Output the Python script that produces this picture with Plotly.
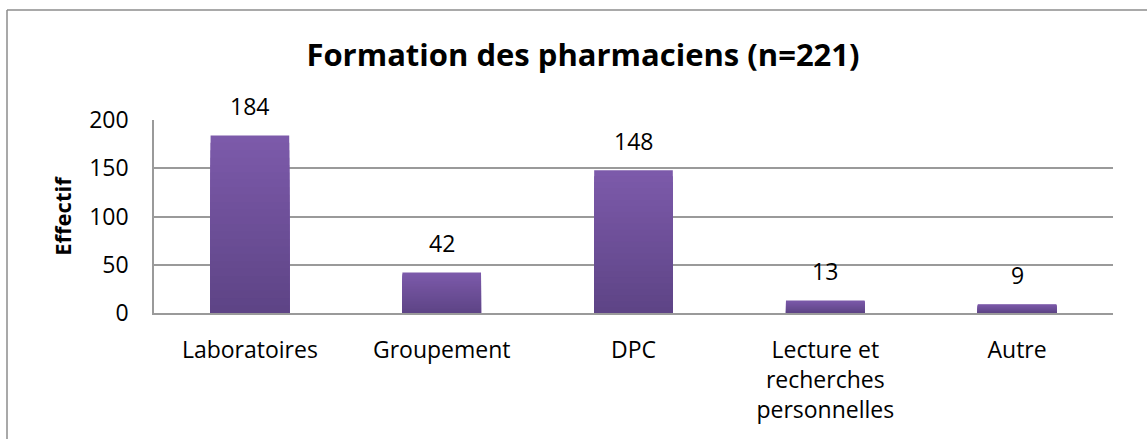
import plotly.graph_objects as go

categories = ["Laboratoires", "Groupement", "DPC", "Lecture et<br>recherches<br>personnelles", "Autre"]
values = [184, 42, 148, 13, 9]
y_ticks = [0, 50, 100, 150, 200]
title_text = "Formation des pharmaciens (n=221)"
y_title = "Effectif"

FONT = "Open Sans"
W, H = 1147, 439
L, R, T, B = 154, 34, 120, 126

# gradient approximation: light top -> dark bottom
top_c = (124, 90, 170)
bot_c = (94, 68, 134)
N = 24

fig = go.Figure()
for k in range(N):
    frac = 1 - k / N
    t = k / (N - 1)
    c = tuple(round(top_c[i] + (bot_c[i] - top_c[i]) * t) for i in range(3))
    fig.add_trace(go.Bar(
        x=categories, y=[v * frac for v in values],
        marker=dict(color=f"rgb{c}", line=dict(width=0)),
        width=0.41, hoverinfo="skip", showlegend=False,
    ))

for c, v in zip(categories, values):
    fig.add_annotation(x=c, y=v, text=str(v), showarrow=False,
                       yanchor="bottom", yshift=11,
                       font=dict(family=FONT, size=23, color="black"))

pw = W - L - R
ph = H - T - B
def px_x(p):
    return (p - L) / pw
def px_y(p):
    return (H - B - p) / ph

border = dict(color="#8c8c8c", width=1.5)
fig.add_shape(type="line", xref="paper", yref="paper",
              x0=px_x(7), x1=px_x(1160), y0=px_y(10), y1=px_y(10), line=border)
fig.add_shape(type="line", xref="paper", yref="paper",
              x0=px_x(7), x1=px_x(7), y0=px_y(10), y1=px_y(460), line=border)

fig.update_layout(
    width=W, height=H,
    margin=dict(l=L, r=R, t=T, b=B),
    barmode="overlay", bargap=0.59,
    plot_bgcolor="white", paper_bgcolor="white",
    title=dict(text=f"<b>{title_text}</b>", x=583 / W, xanchor="center",
               y=1 - 55 / H, yanchor="middle",
               font=dict(family=FONT, size=31, color="black")),
    font=dict(family=FONT, color="black"),
)
fig.update_yaxes(range=[0, 200], tickvals=y_ticks, showgrid=True,
                 gridcolor="#9a9a9a", gridwidth=1.5,
                 showline=True, linecolor="#9a9a9a", linewidth=1.5,
                 zeroline=False, ticks="", ticklabelstandoff=19,
                 tickfont=dict(family=FONT, size=23, color="black"),
                 title=dict(text=f"<b>{y_title}</b>", standoff=11,
                            font=dict(family=FONT, size=22, color="black")))
fig.update_xaxes(showline=True, linecolor="#9a9a9a", linewidth=1.5,
                 ticks="", ticklabelstandoff=16,
                 tickfont=dict(family=FONT, size=23, color="black"))

fig.write_html("out.html", post_script="document.body.style.margin='0px';",
               config={"displayModeBar": False})
